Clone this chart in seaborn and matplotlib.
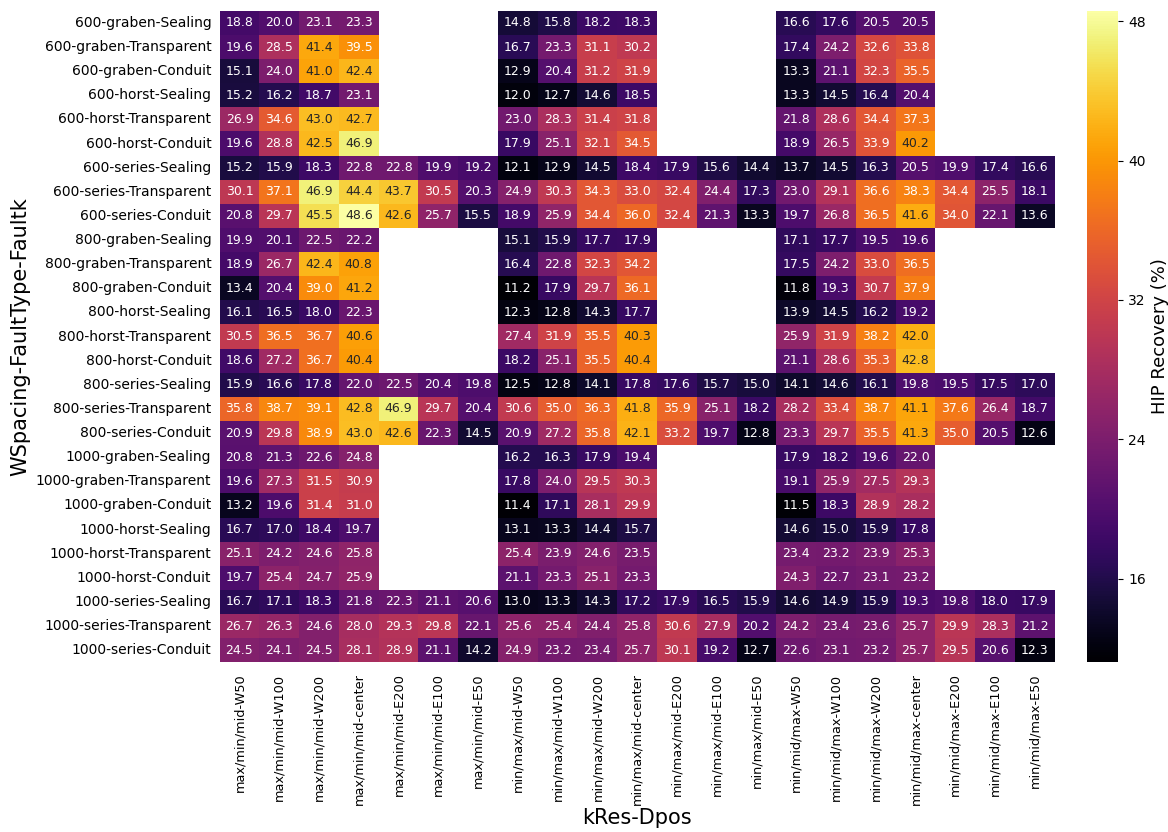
import numpy as np
import pandas as pd
import matplotlib
matplotlib.use("Agg")
import matplotlib.pyplot as plt
import seaborn as sns

nan = np.nan

col_labels = [
    "max/min/mid-W50", "max/min/mid-W100", "max/min/mid-W200", "max/min/mid-center",
    "max/min/mid-E200", "max/min/mid-E100", "max/min/mid-E50",
    "min/max/mid-W50", "min/max/mid-W100", "min/max/mid-W200", "min/max/mid-center",
    "min/max/mid-E200", "min/max/mid-E100", "min/max/mid-E50",
    "min/mid/max-W50", "min/mid/max-W100", "min/mid/max-W200", "min/mid/max-center",
    "min/mid/max-E200", "min/mid/max-E100", "min/mid/max-E50",
]

spacings = ["600", "800", "1000"]
fault_types = ["graben", "horst", "series"]
fault_ks = ["Sealing", "Transparent", "Conduit"]

N = nan
# rows: Sealing, Transparent, Conduit ; 21 columns each
v600_graben = [
    [18.8, 20.0, 23.1, 23.3, N, N, N, 14.8, 15.8, 18.2, 18.3, N, N, N, 16.6, 17.6, 20.5, 20.5, N, N, N],
    [19.6, 28.5, 41.4, 39.5, N, N, N, 16.7, 23.3, 31.1, 30.2, N, N, N, 17.4, 24.2, 32.6, 33.8, N, N, N],
    [15.1, 24.0, 41.0, 42.4, N, N, N, 12.9, 20.4, 31.2, 31.9, N, N, N, 13.3, 21.1, 32.3, 35.5, N, N, N],
]
v600_horst = [
    [15.2, 16.2, 18.7, 23.1, N, N, N, 12.0, 12.7, 14.6, 18.5, N, N, N, 13.3, 14.5, 16.4, 20.4, N, N, N],
    [26.9, 34.6, 43.0, 42.7, N, N, N, 23.0, 28.3, 31.4, 31.8, N, N, N, 21.8, 28.6, 34.4, 37.3, N, N, N],
    [19.6, 28.8, 42.5, 46.9, N, N, N, 17.9, 25.1, 32.1, 34.5, N, N, N, 18.9, 26.5, 33.9, 40.2, N, N, N],
]
v600_series = [
    [15.2, 15.9, 18.3, 22.8, 22.8, 19.9, 19.2, 12.1, 12.9, 14.5, 18.4, 17.9, 15.6, 14.4, 13.7, 14.5, 16.3, 20.5, 19.9, 17.4, 16.6],
    [30.1, 37.1, 46.9, 44.4, 43.7, 30.5, 20.3, 24.9, 30.3, 34.3, 33.0, 32.4, 24.4, 17.3, 23.0, 29.1, 36.6, 38.3, 34.4, 25.5, 18.1],
    [20.8, 29.7, 45.5, 48.6, 42.6, 25.7, 15.5, 18.9, 25.9, 34.4, 36.0, 32.4, 21.3, 13.3, 19.7, 26.8, 36.5, 41.6, 34.0, 22.1, 13.6],
]
v800_graben = [
    [19.9, 20.1, 22.5, 22.2, N, N, N, 15.1, 15.9, 17.7, 17.9, N, N, N, 17.1, 17.7, 19.5, 19.6, N, N, N],
    [18.9, 26.7, 42.4, 40.8, N, N, N, 16.4, 22.8, 32.3, 34.2, N, N, N, 17.5, 24.2, 33.0, 36.5, N, N, N],
    [13.4, 20.4, 39.0, 41.2, N, N, N, 11.2, 17.9, 29.7, 36.1, N, N, N, 11.8, 19.3, 30.7, 37.9, N, N, N],
]
v800_horst = [
    [16.1, 16.5, 18.0, 22.3, N, N, N, 12.3, 12.8, 14.3, 17.7, N, N, N, 13.9, 14.5, 16.2, 19.2, N, N, N],
    [30.5, 36.5, 36.7, 40.6, N, N, N, 27.4, 31.9, 35.5, 40.3, N, N, N, 25.9, 31.9, 38.2, 42.0, N, N, N],
    [18.6, 27.2, 36.7, 40.4, N, N, N, 18.2, 25.1, 35.5, 40.4, N, N, N, 21.1, 28.6, 35.3, 42.8, N, N, N],
]
v800_series = [
    [15.9, 16.6, 17.8, 22.0, 22.5, 20.4, 19.8, 12.5, 12.8, 14.1, 17.8, 17.6, 15.7, 15.0, 14.1, 14.6, 16.1, 19.8, 19.5, 17.5, 17.0],
    [35.8, 38.7, 39.1, 42.8, 46.9, 29.7, 20.4, 30.6, 35.0, 36.3, 41.8, 35.9, 25.1, 18.2, 28.2, 33.4, 38.7, 41.1, 37.6, 26.4, 18.7],
    [20.9, 29.8, 38.9, 43.0, 42.6, 22.3, 14.5, 20.9, 27.2, 35.8, 42.1, 33.2, 19.7, 12.8, 23.3, 29.7, 35.5, 41.3, 35.0, 20.5, 12.6],
]
v1000_graben = [
    [20.8, 21.3, 22.6, 24.8, N, N, N, 16.2, 16.3, 17.9, 19.4, N, N, N, 17.9, 18.2, 19.6, 22.0, N, N, N],
    [19.6, 27.3, 31.5, 30.9, N, N, N, 17.8, 24.0, 29.5, 30.3, N, N, N, 19.1, 25.9, 27.5, 29.3, N, N, N],
    [13.2, 19.6, 31.4, 31.0, N, N, N, 11.4, 17.1, 28.1, 29.9, N, N, N, 11.5, 18.3, 28.9, 28.2, N, N, N],
]
v1000_horst = [
    [16.7, 17.0, 18.4, 19.7, N, N, N, 13.1, 13.3, 14.4, 15.7, N, N, N, 14.6, 15.0, 15.9, 17.8, N, N, N],
    [25.1, 24.2, 24.6, 25.8, N, N, N, 25.4, 23.9, 24.6, 23.5, N, N, N, 23.4, 23.2, 23.9, 25.3, N, N, N],
    [19.7, 25.4, 24.7, 25.9, N, N, N, 21.1, 23.3, 25.1, 23.3, N, N, N, 24.3, 22.7, 23.1, 23.2, N, N, N],
]
v1000_series = [
    [16.7, 17.1, 18.3, 21.8, 22.3, 21.1, 20.6, 13.0, 13.3, 14.3, 17.2, 17.9, 16.5, 15.9, 14.6, 14.9, 15.9, 19.3, 19.8, 18.0, 17.9],
    [26.7, 26.3, 24.6, 28.0, 29.3, 29.8, 22.1, 25.6, 25.4, 24.4, 25.8, 30.6, 27.9, 20.2, 24.2, 23.4, 23.6, 25.7, 29.9, 28.3, 21.2],
    [24.5, 24.1, 24.5, 28.1, 28.9, 21.1, 14.2, 24.9, 23.2, 23.4, 25.7, 30.1, 19.2, 12.7, 22.6, 23.1, 23.2, 25.7, 29.5, 20.6, 12.3],
]

blocks = [v600_graben, v600_horst, v600_series,
          v800_graben, v800_horst, v800_series,
          v1000_graben, v1000_horst, v1000_series]

row_labels = [f"{s}-{t}-{k}" for s in spacings for t in fault_types for k in fault_ks]
values = np.array([r for b in blocks for r in b], dtype=float)
df = pd.DataFrame(values, index=row_labels, columns=col_labels)

plt.rcParams['font.family'] = ['DejaVu Sans']
fig = plt.figure(figsize=(11.68, 8.32), dpi=100)
ax = fig.add_axes([0.188, 0.204, 0.715, 0.783])
cax = fig.add_axes([0.931, 0.204, 0.0265, 0.783])

sns.heatmap(df, ax=ax, cbar_ax=cax, cmap="inferno", annot=True, fmt=".1f",
            annot_kws={"fontsize": 9}, cbar_kws={"label": "HIP Recovery (%)"})

ax.set_xticks(np.arange(len(col_labels)) + 0.5)
ax.set_xticklabels(col_labels, rotation=90, fontsize=9.3)
ax.set_yticks(np.arange(len(row_labels)) + 0.5)
ax.set_yticklabels(row_labels, rotation=0, fontsize=10)
ax.tick_params(axis='x', length=0, pad=8)
ax.tick_params(axis='y', length=0, pad=6)
ax.set_xlabel("kRes-Dpos", fontsize=15, labelpad=2)
ax.set_ylabel("WSpacing-FaultType-Faultk", fontsize=15)

cax.set_yticks([16, 24, 32, 40, 48])
cax.tick_params(labelsize=10)
cax.yaxis.label.set_size(13)

fig.savefig("out.png", dpi=100)
